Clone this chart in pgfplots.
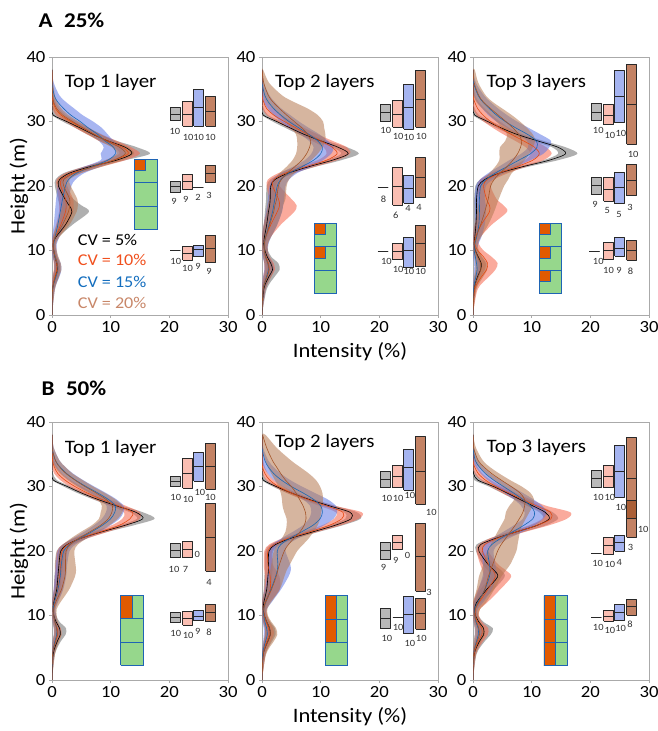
\documentclass[border=0pt]{standalone}
\usepackage{fontspec}
\setmainfont{Carlito}[FakeStretch=1.1]
\usepackage{pgfplots}
\usepackage{pgfplotstable}
\pgfplotsset{compat=1.18}

\definecolor{axgray}{RGB}{170,170,170}
\definecolor{bandk}{RGB}{110,110,110}
\definecolor{bandr}{RGB}{245,100,75}
\definecolor{bandu}{RGB}{95,120,230}
\definecolor{bandw}{RGB}{180,120,80}
\definecolor{linek}{RGB}{0,0,0}
\definecolor{liner}{RGB}{230,75,20}
\definecolor{lineu}{RGB}{25,105,180}
\definecolor{linew}{RGB}{165,85,40}
\definecolor{bxk}{RGB}{185,185,185}
\definecolor{bxr}{RGB}{250,190,178}
\definecolor{bxu}{RGB}{165,180,240}
\definecolor{bxw}{RGB}{195,130,100}
\definecolor{bxwd}{RGB}{170,95,55}
\definecolor{boxdraw}{RGB}{40,40,40}
\definecolor{labgray}{RGB}{50,50,50}
\definecolor{ggreen}{RGB}{150,215,140}
\definecolor{gblue}{RGB}{30,100,180}
\definecolor{gorange}{RGB}{225,90,0}
\definecolor{cvr}{RGB}{240,80,30}
\definecolor{cvu}{RGB}{20,110,190}
\definecolor{cvw}{RGB}{200,135,105}

\newcommand{\tickfont}{\fontsize{17}{19}\selectfont}
\newcommand{\labfont}{\fontsize{20.5}{22}\selectfont}
\newcommand{\ttlfont}{\fontsize{19}{21}\selectfont}
\newcommand{\numfont}{\fontsize{9.5}{10}\selectfont}
\newcommand{\cvfont}{\fontsize{16.5}{18}\selectfont}

\pgfplotsset{panel/.style={scale only axis, width=176pt, height=258pt,
  xmin=0, xmax=30, ymin=0, ymax=40, xtick={0,10,20,30}, ytick={0,10,20,30,40},
  axis line style={draw=axgray, line width=0.8pt}, tick style={draw=axgray, line width=0.8pt},
  tick align=outside, tick pos=left, major tick length=3pt,
  ticklabel style={font=\tickfont}, /pgf/number format/assume math mode=true,
  xlabel style={font=\labfont, at={(axis description cs:0.5,-0.143)}, anchor=center},
  ylabel style={font=\labfont, at={(axis description cs:-0.1875,0.5)}, anchor=center},
  anchor=south west}}

% builds a closed band polygon in #1 (up the lo side, down the hi side); #2 = descending copy
\newcommand{\mkband}[2]{%
 \pgfplotstablesort[sort key=h, sort cmp=float >]{#2}{#1}%
 \pgfplotstablecreatecol[copy=hi]{bx}{#2}%
 \pgfplotstablecreatecol[copy=lo]{bx}{#1}%
 \pgfplotstablevertcat{#1}{#2}%
}
\newcommand{\prof}[2]{\addplot[fill=#2, fill opacity=0.55, draw=none, smooth] table[x=bx,y=h]{#1};}
\newcommand{\mline}[2]{\addplot[draw=#2, line width=0.6pt, smooth] table[x=m,y=h]{#1};}
\newcommand{\four}[8]{%
 \prof{#1}{bandk}
 \prof{#2}{bandr}
 \prof{#3}{bandu}
 \prof{#4}{bandw}
 \mline{#5}{linek}
 \mline{#6}{liner}
 \mline{#7}{lineu}
 \mline{#8}{linew}
}
\newcommand{\bx}[5]{%
 \pgfmathsetmacro\bxl{#1-0.85}\pgfmathsetmacro\bxr{#1+0.85}%
 \addplot[fill=#5, draw=boxdraw, line width=1pt, line join=round] coordinates {(\bxl,#2) (\bxr,#2) (\bxr,#4) (\bxl,#4) (\bxl,#2)};
 \addplot[draw=boxdraw, line width=1pt] coordinates {(\bxl,#3) (\bxr,#3)};
}
\newcommand{\lb}[3]{\node[font=\numfont, text=labgray] at (axis cs:#1,#2) {#3};}
\newcommand{\rect}[5]{\addplot[fill=#5, draw=gblue, line width=0.9pt, line join=round] coordinates {(#1,#2) (#3,#2) (#3,#4) (#1,#4) (#1,#2)};}
\newcommand{\hl}[3]{\addplot[draw=gblue, line width=0.9pt] coordinates {(#1,#3) (#2,#3)};}

% ---------------- Panel A, Top 1 layer ----------------
\pgfplotstableread{
h m lo hi
0 0 0 0
4 0.1 0 0.4
6 0.6 0.2 1.2
7 0.9 0.4 1.4
8 0.8 0.4 1.3
9 0.5 0.2 0.9
10 0.3 0.1 0.6
11 0.2 0 0.5
12 0.6 0.2 1.0
14 2.3 1.2 3.5
16 3.4 1.5 6.3
17 2.9 1.3 5.0
18 2.2 1.0 3.6
20 1.1 0.5 1.8
21 1.3 0.6 2.1
22 3.0 2.0 4.0
23 6.5 5.5 7.8
24 11 10 12.5
25 13.6 12.5 16.7
26 12.5 11.5 14.5
27 9.5 8.5 11
28 7 6 8.2
29 4.8 4 5.8
30 2.5 1.8 3.5
31 0.2 0 1.0
32 0 0 0.3
33 0 0 0
34 0 0 0
36 0 0 0
38 0 0 0
}\tAak
\pgfplotstableread{
h m lo hi
0 0 0 0
4 0.1 0 0.4
6 0.5 0.1 1.0
7 0.8 0.3 1.3
8 0.8 0.3 1.3
9 0.5 0.2 0.9
10 0.3 0 0.7
11 0.2 0 0.6
12 0.5 0.1 1.0
14 1.5 0.7 2.6
16 2.3 1.2 3.6
17 2.4 1.2 3.7
18 2.3 1.2 3.6
20 1.5 0.8 2.6
21 1.6 0.8 2.6
22 3.5 2.3 4.8
23 7 5.5 8.5
24 10.5 9 12.5
25 13 11.5 15
26 12 10.5 13.5
27 9.5 8 11
28 7.2 6 8.5
29 5.2 4 6.3
30 3.2 2.3 4.2
31 1.5 0.7 2.3
32 0.6 0.1 1.2
33 0.2 0 0.6
34 0 0 0.3
36 0 0 0.1
38 0 0 0
}\tAar
\pgfplotstableread{
h m lo hi
0 0 0 0
4 0.1 0 0.5
6 0.7 0.2 1.3
7 1.0 0.4 1.6
8 0.9 0.4 1.5
9 0.5 0.1 1.0
10 0.3 0 0.8
11 0.3 0 0.8
12 0.5 0 1.2
14 1.0 0.3 2.0
16 1.4 0.5 2.5
17 1.6 0.6 2.7
18 1.8 0.7 2.9
20 2.3 1.0 3.3
21 2.8 1.5 4.0
22 4.2 2.8 5.5
23 6.8 5.5 8.2
24 9.5 8.3 10.8
25 10.8 8.3 12.5
26 10.5 8.8 12
27 9 8 10.5
28 7.8 6.5 9.5
29 6.2 5 8.5
30 4.8 3.5 7
31 3.2 2 5.2
32 2 1 3.8
33 1.0 0.3 2.4
34 0.4 0 1.3
36 0 0 0.3
38 0 0 0
}\tAau
\pgfplotstableread{
h m lo hi
0 0 0 0
4 0.1 0 0.5
6 0.6 0.2 1.2
7 1.0 0.4 1.6
8 0.9 0.4 1.5
9 0.6 0.2 1.1
10 0.3 0 0.8
11 0.2 0 0.7
12 0.5 0.1 1.2
14 1.8 0.8 3.0
16 2.8 1.5 4.2
17 3.0 1.8 4.4
18 3.0 1.8 4.3
20 2.0 1.0 3.2
21 2.0 1.0 3.0
22 3.8 2.6 5.0
23 7 5.8 8.5
24 10.5 9.2 12
25 12.5 11 14
26 11.5 10.2 13
27 9.2 8 10.5
28 7.2 6.2 8.3
29 5.3 4.3 6.3
30 3.5 2.6 4.5
31 1.8 1 2.8
32 0.8 0.2 1.6
33 0.3 0 0.9
34 0.1 0 0.5
36 0 0 0.2
38 0 0 0
}\tAaw

% ---------------- Panel A, Top 2 layers ----------------
\pgfplotstableread{
h m lo hi
0 0 0 0
4 0.3 0 0.8
6 1.2 0.5 2.2
7 1.8 0.8 3.0
8 1.5 0.7 2.8
9 0.9 0.4 1.6
10 0.5 0.1 1.0
11 0.3 0 0.7
12 0.4 0 0.9
14 0.8 0.3 1.5
16 1.1 0.5 1.9
17 1.3 0.6 2.1
18 1.4 0.7 2.2
20 1.5 0.8 2.3
21 2.2 1.4 3.0
22 4.5 3.5 5.5
23 8 7 9.2
24 12 11 13.5
25 14.7 13.5 16.5
26 13 12 14.5
27 10 9 11
28 7.2 6.3 8.2
29 4.8 4 5.7
30 2.5 1.8 3.3
31 0.2 0 1.0
32 0 0 0.3
33 0 0 0
34 0 0 0
36 0 0 0
38 0 0 0
}\tAbk
\pgfplotstableread{
h m lo hi
0 0 0 0
4 0.2 0 0.6
6 0.8 0.2 1.6
7 1.2 0.4 2.2
8 1.1 0.4 2.0
9 0.7 0.2 1.3
10 0.4 0 0.9
11 0.4 0 1.0
12 0.6 0 1.4
14 1.5 0.3 3.2
16 2.6 0.8 5.5
17 3.0 1.0 5.9
18 2.8 1.2 5.0
20 1.8 0.8 3.0
21 2.0 1.0 3.0
22 4 2.8 5.5
23 7.5 6 9
24 11 9.5 12.8
25 12.8 11 15
26 12 10.5 14.5
27 10 8.5 12
28 7.8 6.5 9.5
29 5.8 4.5 7.2
30 3.8 2.5 5.2
31 2.0 0.8 3.2
32 0.8 0.1 1.8
33 0.3 0 0.8
34 0 0 0.3
36 0 0 0
38 0 0 0
}\tAbr
\pgfplotstableread{
h m lo hi
0 0 0 0
4 0.2 0 0.6
6 0.8 0.2 1.5
7 1.1 0.4 2.0
8 1.0 0.4 1.8
9 0.6 0.1 1.2
10 0.4 0 1.0
11 0.4 0 1.1
12 0.6 0 1.5
14 1.2 0.3 2.6
16 1.8 0.7 3.4
17 2.0 0.9 3.6
18 2.2 1.0 3.8
20 2.6 1.3 4.0
21 3.2 1.8 4.6
22 4.6 3.2 6.0
23 6.8 5.3 8.4
24 8.8 7.3 10.4
25 10 8.4 11.8
26 10.3 8.8 12.2
27 9.5 8 11.2
28 8 6.5 9.8
29 6.3 4.8 8
30 4.6 3.2 6.3
31 3.2 2 4.8
32 2 1 3.3
33 1.1 0.3 2.2
34 0.5 0 1.3
36 0 0 0.3
38 0 0 0
}\tAbu
\pgfplotstableread{
h m lo hi
0 0 0 0
4 0.2 0 0.6
6 0.9 0.3 1.6
7 1.2 0.5 2.0
8 1.0 0.4 1.8
9 0.6 0.2 1.2
10 0.4 0 1.0
11 0.4 0 1.0
12 0.6 0 1.5
14 1.3 0.3 2.6
16 2.0 0.8 3.4
17 2.2 1.0 3.6
18 2.5 1.2 4.0
20 2.8 1.5 4.2
21 3.3 2.0 4.6
22 4.3 3.0 5.6
23 5.6 4.2 7.0
24 6.8 5.2 8.4
25 7.6 5.8 9.5
26 8.1 6.0 10.3
27 8.3 6.0 10.8
28 7.8 5.8 10.8
29 6.8 5.0 10.6
30 5.5 4.0 10.4
31 4.2 3.0 9.5
32 3.0 1.8 7.8
33 1.9 0.8 5.5
34 1.1 0.3 3.5
36 0.3 0 1.2
38 0 0 0.2
}\tAbw

% ---------------- Panel A, Top 3 layers ----------------
\pgfplotstableread{
h m lo hi
0 0 0 0
4 0.2 0 0.5
6 0.8 0.3 1.4
7 1.3 0.6 2.0
8 1.4 0.7 2.2
9 0.9 0.4 1.5
10 0.4 0.1 0.8
11 0.2 0 0.5
12 0.3 0 0.7
14 0.5 0.2 1.0
16 0.6 0.2 1.1
17 0.6 0.2 1.1
18 0.6 0.2 1.1
20 0.9 0.4 1.5
21 2.0 1.2 2.8
22 4.5 3.5 5.5
23 8.5 7.5 9.5
24 13 12 14.5
25 15.8 14.5 17.8
26 14.5 13.5 15.8
27 11 10 12
28 7.5 6.5 8.5
29 4.8 4 5.6
30 2.5 1.8 3.2
31 0.3 0 1.0
32 0 0 0.3
33 0 0 0
34 0 0 0
36 0 0 0
38 0 0 0
}\tAck
\pgfplotstableread{
h m lo hi
0 0 0 0
4 0.3 0 0.8
6 1.5 0.5 2.8
7 2.3 1.0 3.8
8 2.5 1.0 4.2
9 1.8 0.6 3.2
10 0.8 0.1 1.8
11 0.3 0 1.0
12 0.4 0 1.2
14 1.4 0.3 3.2
16 2.8 1.0 5.8
17 2.8 1.2 5.2
18 2.3 1.0 4.0
20 1.8 0.8 3.0
21 2.4 1.2 3.6
22 4.5 3.0 6.0
23 7.5 6 9.0
24 10.2 8.8 12
25 11.3 9.8 13.4
26 10.5 9 12.5
27 8.6 7.2 10.5
28 6.5 5.2 8.2
29 4.6 3.4 6.2
30 3.0 1.8 4.6
31 1.7 0.6 3.2
32 0.8 0 2.0
33 0.3 0 1.0
34 0 0 0.4
36 0 0 0
38 0 0 0
}\tAcr
\pgfplotstableread{
h m lo hi
0 0 0 0
4 0.1 0 0.4
6 0.5 0.1 1.0
7 0.7 0.2 1.3
8 0.6 0.2 1.2
9 0.4 0 0.9
10 0.2 0 0.7
11 0.3 0 0.9
12 0.6 0 1.4
14 1.0 0.3 2.0
16 1.1 0.3 2.2
17 1.1 0.3 2.2
18 1.1 0.3 2.0
20 1.3 0.5 2.2
21 2.2 1.2 3.4
22 3.8 2.6 5.2
23 5.8 4.4 7.4
24 7.8 6.2 9.8
25 9.8 8.2 12
26 10.9 9.4 13
27 10.8 9.2 13.3
28 9.3 7.8 11.5
29 7.3 5.8 9.5
30 5.5 4.0 7.5
31 4.0 2.6 5.8
32 2.8 1.6 4.3
33 1.7 0.7 3.0
34 0.9 0.2 1.9
36 0.1 0 0.5
38 0 0 0
}\tAcu
\pgfplotstableread{
h m lo hi
0 0 0 0
4 0.2 0 0.6
6 0.9 0.2 1.8
7 1.3 0.4 2.4
8 1.3 0.4 2.4
9 0.8 0.2 1.6
10 0.4 0 1.0
11 0.3 0 0.8
12 0.5 0 1.3
14 1.3 0.3 2.6
16 2.0 0.7 3.6
17 2.3 0.9 4.0
18 2.6 1.1 4.4
20 3.0 1.3 5.3
21 3.6 1.8 6.0
22 4.6 2.8 6.6
23 5.8 3.8 7.8
24 6.8 4.5 8.8
25 7.6 4.5 9.6
26 8.1 4.6 10.2
27 8.3 5.5 10.6
28 7.8 5.8 10.2
29 6.8 5.0 9.2
30 5.6 4.0 8.0
31 4.3 2.8 6.6
32 3.0 1.6 5.0
33 1.8 0.6 3.4
34 1.0 0.1 2.2
36 0.2 0 0.9
38 0 0 0.3
}\tAcw

% ---------------- Panel B, Top 1 layer ----------------
\pgfplotstableread{
h m lo hi
0 0 0 0
4 0.2 0 0.5
6 0.9 0.4 1.5
7 1.4 0.7 2.3
8 1.3 0.6 2.4
9 0.7 0.3 1.3
10 0.3 0.1 0.7
11 0.2 0 0.5
12 0.3 0 0.7
14 0.8 0.3 1.4
16 1.0 0.4 1.6
17 1.1 0.5 1.8
18 1.2 0.5 1.9
20 1.5 0.8 2.3
21 2.6 1.8 3.4
22 5.0 4.0 6.0
23 8.6 7.6 9.6
24 12.5 11.5 14
25 15.5 14.5 17.5
26 14.3 13.3 15.5
27 11 10 12
28 7.8 7 8.6
29 5 4.3 5.8
30 2.6 2 3.2
31 0.2 0 0.8
32 0 0 0.2
33 0 0 0
34 0 0 0
36 0 0 0
38 0 0 0
}\tBak
\pgfplotstableread{
h m lo hi
0 0 0 0
4 0.1 0 0.4
6 0.6 0.2 1.1
7 1.0 0.4 1.6
8 0.9 0.4 1.5
9 0.5 0.2 0.9
10 0.3 0 0.6
11 0.2 0 0.5
12 0.4 0 0.9
14 1.0 0.3 1.8
16 1.3 0.5 2.2
17 1.4 0.6 2.3
18 1.5 0.6 2.4
20 1.7 0.9 2.6
21 2.7 1.8 3.6
22 5.0 3.8 6.2
23 8.3 7 9.6
24 11.5 10.2 13
25 13.3 12 15
26 13.7 12.3 15
27 11.3 10 12.6
28 8.5 7.3 9.8
29 6.0 5 7.2
30 3.9 3.0 5.0
31 2.2 1.4 3.1
32 1.0 0.4 1.7
33 0.4 0 0.9
34 0.1 0 0.4
36 0 0 0
38 0 0 0
}\tBar
\pgfplotstableread{
h m lo hi
0 0 0 0
4 0.1 0 0.4
6 0.5 0.1 1.0
7 0.8 0.3 1.4
8 0.8 0.3 1.3
9 0.5 0.1 0.9
10 0.3 0 0.7
11 0.2 0 0.6
12 0.4 0 1.0
14 1.0 0.3 1.9
16 1.4 0.5 2.4
17 1.5 0.6 2.5
18 1.6 0.7 2.6
20 2.0 1.0 3.0
21 3.0 1.9 4.0
22 4.8 3.6 6.0
23 6.8 5.5 8.2
24 8.6 7.2 10
25 10 8.5 11.5
26 10.7 9.2 12.2
27 10.8 9.3 12.2
28 9.6 8.2 11
29 7.8 6.5 9.2
30 5.8 4.6 7.2
31 4.0 2.9 5.3
32 2.5 1.6 3.6
33 1.4 0.7 2.3
34 0.6 0.1 1.3
36 0 0 0.3
38 0 0 0
}\tBau
\pgfplotstableread{
h m lo hi
0 0 0 0
4 0.1 0 0.5
6 0.6 0.1 1.2
7 0.9 0.3 1.6
8 0.8 0.3 1.4
9 0.5 0.1 1.0
10 0.3 0 0.8
11 0.3 0 0.8
12 0.6 0 1.4
14 1.6 0.5 2.9
16 2.2 0.9 3.9
17 2.3 1.0 4.1
18 2.3 1.0 4.0
20 2.4 1.2 3.8
21 3.1 1.9 4.4
22 4.6 3.3 6.0
23 6.5 5.0 8.0
24 8.3 6.8 9.8
25 9.6 8.0 11.2
26 10.2 8.3 12
27 10.3 8.5 12
28 9.2 7.8 10.8
29 7.5 6.2 9.0
30 5.6 4.3 7.0
31 3.9 2.7 5.2
32 2.4 1.4 3.5
33 1.3 0.5 2.3
34 0.6 0 1.3
36 0 0 0.3
38 0 0 0
}\tBaw

% ---------------- Panel B, Top 2 layers ----------------
\pgfplotstableread{
h m lo hi
0 0 0 0
4 0.2 0 0.6
6 1.0 0.4 1.7
7 1.4 0.6 2.3
8 1.3 0.6 2.2
9 0.8 0.3 1.4
10 0.4 0.1 0.8
11 0.2 0 0.6
12 0.3 0 0.8
14 0.8 0.3 1.5
16 1.0 0.4 1.7
17 1.1 0.5 1.8
18 1.1 0.5 1.8
20 1.2 0.6 1.9
21 2.3 1.5 3.1
22 5.0 4 6.0
23 8.8 7.8 9.8
24 12.5 11.5 13.8
25 15.2 14.2 16.8
26 15.0 14 16.2
27 11.5 10.5 12.5
28 8 7.2 8.8
29 5 4.3 5.7
30 2.4 1.8 3.0
31 0.2 0 0.8
32 0 0 0.2
33 0 0 0
34 0 0 0
36 0 0 0
38 0 0 0
}\tBbk
\pgfplotstableread{
h m lo hi
0 0 0 0
4 0.2 0 0.6
6 0.8 0.3 1.5
7 1.2 0.5 2.0
8 1.1 0.5 1.9
9 0.7 0.2 1.3
10 0.4 0 0.9
11 0.3 0 0.8
12 0.5 0 1.3
14 1.4 0.4 3.0
16 1.4 0.5 3.0
17 1.2 0.4 2.4
18 1.0 0.3 1.8
20 1.0 0.4 1.7
21 2.0 1.2 2.8
22 4.6 3.6 5.8
23 8.2 7 9.6
24 11.5 10.3 13.5
25 13.6 12.3 16.5
26 13.8 12.6 17.0
27 11.0 9.8 12.4
28 7.8 6.8 8.8
29 5.0 4.2 5.9
30 2.8 2.1 3.6
31 1.3 0.7 2.0
32 0.5 0.1 1.0
33 0.1 0 0.5
34 0 0 0.2
36 0 0 0
38 0 0 0
}\tBbr
\pgfplotstableread{
h m lo hi
0 0 0 0
4 0.1 0 0.5
6 0.6 0.2 1.1
7 0.9 0.3 1.5
8 0.8 0.3 1.4
9 0.5 0.1 1.0
10 0.3 0 0.7
11 0.3 0 0.8
12 0.6 0 1.6
14 1.5 0.5 3.2
16 2.3 0.9 4.5
17 2.6 1.1 4.9
18 2.7 1.2 4.8
20 2.6 1.2 4.0
21 3.2 1.8 4.4
22 4.8 3.4 6.2
23 6.8 5.3 8.4
24 8.7 7.0 10.6
25 9.9 8.0 12.2
26 10.3 8.4 12.8
27 10.0 8.2 12.6
28 8.8 7.0 11.2
29 7.0 5.3 9.0
30 5.0 3.5 6.8
31 3.3 2.0 4.8
32 2.0 1.0 3.2
33 1.1 0.3 2.0
34 0.5 0 1.1
36 0 0 0.2
38 0 0 0
}\tBbu
\pgfplotstableread{
h m lo hi
0 0 0 0
4 0.2 0 0.7
6 1.0 0.3 2.0
7 1.4 0.5 2.6
8 1.3 0.5 2.4
9 0.8 0.2 1.6
10 0.4 0 1.0
11 0.3 0 0.9
12 0.6 0 1.5
14 1.6 0.6 3.0
16 2.4 1.2 3.8
17 2.7 1.4 4.2
18 3.0 1.6 4.8
20 3.8 2.0 6.0
21 4.5 2.6 7.0
22 5.5 3.4 8.0
23 6.5 4.0 8.8
24 7.2 4.2 9.5
25 7.5 4.2 9.9
26 7.4 3.8 10.1
27 7.0 3.5 10.3
28 6.4 3.4 10.4
29 5.8 3.2 10.3
30 5.0 2.8 9.9
31 4.0 2.2 9.2
32 3.2 1.6 8.0
33 2.5 1.0 6.5
34 1.8 0.6 5.0
36 0.8 0 2.5
38 0.1 0 0.6
}\tBbw

% ---------------- Panel B, Top 3 layers ----------------
\pgfplotstableread{
h m lo hi
0 0 0 0
4 0.2 0 0.6
6 1.1 0.5 2.0
7 1.8 0.9 3.0
8 1.8 0.8 3.4
9 1.0 0.4 1.8
10 0.4 0.1 0.9
11 0.3 0 0.7
12 0.6 0.1 1.3
14 2.3 1.2 3.5
16 4.2 3.0 5.4
17 3.6 2.5 4.8
18 2.5 1.6 3.5
20 1.0 0.5 1.7
21 1.3 0.6 2.2
22 4.0 3.0 5.0
23 7.5 6.5 8.8
24 11 10 12.5
25 13 12 14.5
26 12.3 11.3 13.6
27 10.2 9.2 11.4
28 8.0 7 9.2
29 5.8 4.9 6.8
30 3.5 2.7 4.5
31 0.8 0.2 1.6
32 0.1 0 0.5
33 0 0 0
34 0 0 0
36 0 0 0
38 0 0 0
}\tBck
\pgfplotstableread{
h m lo hi
0 0 0 0
4 0.2 0 0.5
6 0.9 0.3 1.7
7 1.5 0.6 2.5
8 1.5 0.6 2.6
9 0.8 0.2 1.5
10 0.4 0 1.0
11 0.4 0 1.2
12 1.0 0 2.4
14 2.5 0.8 4.6
16 3.8 1.8 6.5
17 3.4 1.6 5.6
18 2.6 1.2 4.2
20 1.6 0.6 2.6
21 2.0 1.0 3.0
22 4.2 3.0 5.5
23 7.5 6.2 9.0
24 11 9.6 13
25 13.3 11.8 16
26 13.2 11.8 16.6
27 10.8 9.5 12.5
28 8.4 7.2 9.8
29 6.1 5 7.3
30 3.9 3.0 5.0
31 2.1 1.3 3.0
32 0.9 0.3 1.6
33 0.3 0 0.8
34 0 0 0.3
36 0 0 0
38 0 0 0
}\tBcr
\pgfplotstableread{
h m lo hi
0 0 0 0
4 0.1 0 0.4
6 0.6 0.2 1.1
7 0.9 0.3 1.6
8 0.9 0.3 1.5
9 0.5 0.1 1.0
10 0.3 0 0.7
11 0.3 0 0.8
12 0.8 0.1 1.7
14 2.0 0.9 3.2
16 2.8 1.6 4.0
17 2.9 1.8 4.0
18 2.8 1.7 3.8
20 2.5 1.5 3.5
21 3.2 2.0 4.3
22 4.8 3.4 6.2
23 6.8 5.2 8.5
24 8.7 7.0 10.5
25 10.2 8.5 12.0
26 10.5 8.8 12.5
27 9.8 8.2 11.8
28 8.5 7.0 10.3
29 6.9 5.5 8.5
30 5.2 4.0 6.6
31 3.5 2.5 4.7
32 2.1 1.3 3.0
33 1.1 0.5 1.8
34 0.4 0 0.9
36 0 0 0.2
38 0 0 0
}\tBcu
\pgfplotstableread{
h m lo hi
0 0 0 0
4 0.1 0 0.5
6 0.7 0.1 1.4
7 1.1 0.3 2.0
8 1.0 0.3 1.9
9 0.6 0.1 1.2
10 0.3 0 0.9
11 0.4 0 1.2
12 0.9 0 2.2
14 2.0 0.6 3.6
16 2.6 1.0 4.8
17 3.0 1.4 5.6
18 3.4 1.8 6.4
20 4.2 2.4 7.4
21 4.8 3.0 7.6
22 5.6 3.6 7.8
23 6.4 4.2 8.0
24 7.2 4.8 8.4
25 7.9 5.4 9.0
26 8.5 5.6 9.6
27 8.8 6.2 10.2
28 8.8 7.0 10.4
29 8.0 6.5 9.8
30 6.5 5.0 8.3
31 4.8 3.5 6.3
32 3.2 2.2 4.5
33 1.9 1.0 2.9
34 0.9 0.3 1.7
36 0.1 0 0.5
38 0 0 0
}\tBcw

\mkband{\tAak}{\dAak}\mkband{\tAar}{\dAar}\mkband{\tAau}{\dAau}\mkband{\tAaw}{\dAaw}
\mkband{\tAbk}{\dAbk}\mkband{\tAbr}{\dAbr}\mkband{\tAbu}{\dAbu}\mkband{\tAbw}{\dAbw}
\mkband{\tAck}{\dAck}\mkband{\tAcr}{\dAcr}\mkband{\tAcu}{\dAcu}\mkband{\tAcw}{\dAcw}
\mkband{\tBak}{\dBak}\mkband{\tBar}{\dBar}\mkband{\tBau}{\dBau}\mkband{\tBaw}{\dBaw}
\mkband{\tBbk}{\dBbk}\mkband{\tBbr}{\dBbr}\mkband{\tBbu}{\dBbu}\mkband{\tBbw}{\dBbw}
\mkband{\tBck}{\dBck}\mkband{\tBcr}{\dBcr}\mkband{\tBcu}{\dBcu}\mkband{\tBcw}{\dBcw}

\begin{document}
\begin{tikzpicture}
\path[use as bounding box] (0pt,0pt) rectangle (658pt,731pt);

\node[anchor=west, font=\bfseries\fontsize{21}{23}\selectfont] at (35pt,711pt) {A\hspace{0.55em}25\%};
\node[anchor=west, font=\bfseries\fontsize{21}{23}\selectfont] at (38pt,343pt) {B\hspace{0.55em}50\%};

% ===== A1 =====
\begin{axis}[panel, at={(52pt,416pt)}, ylabel={Height (m)}]
\four{\tAak}{\tAar}{\tAau}{\tAaw}{\dAak}{\dAar}{\dAau}{\dAaw}
\rect{14.0}{13.26}{17.9}{24.15}{ggreen}
\rect{14.0}{22.35}{16.0}{24.15}{gorange}
\hl{14.0}{17.9}{20.5}
\hl{14.0}{17.9}{16.8}
\rect{14.0}{13.26}{17.9}{24.15}{none}
\bx{21}{30.1}{31.1}{32.15}{bxk}
\bx{23.1}{29.3}{31.1}{33.1}{bxr}
\bx{25.05}{29.3}{32.15}{34.9}{bxu}
\bx{27.05}{29.3}{31.6}{33.95}{bxw}
\bx{21}{19.05}{19.9}{20.65}{bxk}
\bx{23.1}{19.45}{20.65}{21.85}{bxr}
\bx{24.9}{19.75}{19.75}{19.75}{bxu}
\bx{27.05}{20.5}{21.95}{23.2}{bxw}
\bx{21}{9.95}{9.95}{9.95}{bxk}
\bx{23.1}{8.5}{9.55}{10.6}{bxr}
\bx{25.05}{9.05}{10.2}{10.75}{bxu}
\bx{27.05}{8.1}{10.3}{12.4}{bxw}
\lb{20.95}{28.4}{10}\lb{23.2}{27.6}{10}\lb{25.0}{27.6}{10}\lb{27.0}{27.6}{10}
\lb{20.8}{17.55}{9}\lb{22.8}{17.9}{9}\lb{24.9}{18.2}{2}\lb{26.75}{18.6}{3}
\lb{21.1}{8.25}{10}\lb{23.1}{7.2}{10}\lb{24.9}{7.5}{9}\lb{26.75}{6.7}{9}
\node[font=\ttlfont] at (axis cs:10,36.1) {Top 1 layer};
\node[font=\cvfont, anchor=west, text=black] at (axis cs:3.8,11.7) {CV = 5\%};
\node[font=\cvfont, anchor=west, text=cvr] at (axis cs:3.8,8.5) {CV = 10\%};
\node[font=\cvfont, anchor=west, text=cvu] at (axis cs:3.8,5.2) {CV = 15\%};
\node[font=\cvfont, anchor=west, text=cvw] at (axis cs:3.8,1.9) {CV = 20\%};
\end{axis}

% ===== A2 =====
\begin{axis}[panel, at={(262pt,416pt)}, xlabel={Intensity (\%)}]
\four{\tAbk}{\tAbr}{\tAbu}{\tAbw}{\dAbk}{\dAbr}{\dAbu}{\dAbw}
\rect{8.9}{3.35}{12.7}{14.2}{ggreen}
\rect{8.9}{12.45}{10.9}{14.2}{gorange}
\rect{8.9}{8.75}{10.9}{10.55}{gorange}
\hl{8.9}{12.7}{10.55}
\hl{8.9}{12.7}{6.95}
\rect{8.9}{3.35}{12.7}{14.2}{none}
\bx{21}{30.0}{31.35}{32.6}{bxk}
\bx{23.1}{29.1}{31.15}{33.2}{bxr}
\bx{25.05}{28.8}{32.2}{35.8}{bxu}
\bx{27.05}{29.1}{33.45}{37.85}{bxw}
\bx{20.6}{19.8}{19.8}{19.8}{bxk}
\bx{23.1}{17.0}{19.9}{22.8}{bxr}
\bx{25.05}{17.35}{19.65}{21.65}{bxu}
\bx{27.05}{18.2}{21.25}{24.35}{bxw}
\bx{20.6}{9.9}{9.9}{9.9}{bxk}
\bx{23.1}{8.6}{9.9}{11.05}{bxr}
\bx{25.05}{7.35}{10.05}{11.95}{bxu}
\bx{27.05}{7.45}{11.05}{13.9}{bxw}
\lb{21.1}{28.6}{10}\lb{23.2}{27.65}{10}\lb{25.05}{27.45}{10}\lb{27.15}{27.65}{10}
\lb{20.7}{18.0}{8}\lb{22.8}{15.45}{6}\lb{24.9}{16.5}{4}\lb{26.75}{16.6}{4}
\lb{21.2}{8.25}{10}\lb{23.2}{7.05}{10}\lb{25.05}{6.7}{10}\lb{27.05}{6.7}{10}
\node[font=\ttlfont] at (axis cs:10.7,36.0) {Top 2 layers};
\end{axis}

% ===== A3 =====
\begin{axis}[panel, at={(473pt,416pt)}]
\four{\tAck}{\tAcr}{\tAcu}{\tAcw}{\dAck}{\dAcr}{\dAcu}{\dAcw}
\rect{11.3}{3.35}{15.1}{14.25}{ggreen}
\rect{11.3}{12.45}{13.2}{14.25}{gorange}
\rect{11.3}{8.75}{13.2}{10.55}{gorange}
\rect{11.3}{5.15}{13.2}{6.95}{gorange}
\hl{11.3}{15.1}{10.55}
\hl{11.3}{15.1}{6.95}
\rect{11.3}{3.35}{15.1}{14.25}{none}
\bx{21}{30.1}{31.45}{32.8}{bxk}
\bx{23.1}{29.5}{31.0}{32.6}{bxr}
\bx{25.05}{29.8}{33.9}{37.9}{bxu}
\bx{27.05}{26.5}{32.7}{38.9}{bxw}
\bx{21}{18.7}{20.1}{21.35}{bxk}
\bx{23.1}{17.65}{19.5}{21.35}{bxr}
\bx{25.05}{17.25}{19.7}{22.15}{bxu}
\bx{27.05}{18.45}{20.9}{23.4}{bxw}
\bx{20.7}{9.9}{9.9}{9.9}{bxk}
\bx{23.1}{8.6}{9.95}{11.25}{bxr}
\bx{25.05}{9.1}{10.25}{11.95}{bxu}
\bx{27.05}{8.5}{9.95}{11.55}{bxw}
\lb{21.35}{28.6}{10}\lb{23.35}{27.9}{10}\lb{25.2}{28.2}{10}\lb{27.3}{24.9}{10}
\lb{20.8}{17.1}{9}\lb{22.9}{16.2}{5}\lb{24.9}{15.55}{5}\lb{26.75}{16.75}{3}
\lb{21.35}{8.25}{10}\lb{23.1}{6.95}{10}\lb{24.9}{6.95}{9}\lb{26.85}{6.85}{8}
\node[font=\ttlfont] at (axis cs:10.8,36.0) {Top 3 layers};
\end{axis}

% ===== B1 =====
\begin{axis}[panel, at={(52pt,51pt)}, ylabel={Height (m)}]
\four{\tBak}{\tBar}{\tBau}{\tBaw}{\dBak}{\dBar}{\dBau}{\dBaw}
\rect{11.7}{2.3}{15.6}{13.1}{ggreen}
\rect{11.7}{9.5}{13.7}{13.1}{gorange}
\hl{11.7}{15.6}{9.5}
\hl{11.7}{15.6}{5.8}
\rect{11.7}{2.3}{15.6}{13.1}{none}
\bx{21}{29.95}{30.8}{31.5}{bxk}
\bx{23.1}{29.75}{32.0}{34.35}{bxr}
\bx{25.05}{30.8}{33.05}{35.25}{bxu}
\bx{27.05}{29.6}{33.05}{36.7}{bxw}
\bx{21}{18.95}{20.1}{21.2}{bxk}
\bx{23.1}{18.95}{20.25}{21.5}{bxr}
\bx{27.05}{16.85}{22.15}{27.4}{bxw}
\bx{21}{8.9}{9.7}{10.4}{bxk}
\bx{23.1}{8.5}{9.5}{10.55}{bxr}
\bx{25.05}{9.15}{9.9}{10.7}{bxu}
\bx{27.05}{9.0}{10.45}{11.7}{bxw}
\lb{21.1}{28.3}{10}\lb{23.2}{28.05}{10}\lb{25.2}{29.1}{10}\lb{27.0}{28.3}{10}
\lb{20.8}{17.1}{10}\lb{22.75}{17.1}{7}\lb{24.75}{19.45}{0}\lb{26.75}{15.2}{4}
\lb{21.1}{7.2}{10}\lb{23.2}{6.9}{10}\lb{24.85}{7.6}{9}\lb{26.75}{7.45}{8}
\node[font=\ttlfont] at (axis cs:10,35.9) {Top 1 layer};
\end{axis}

% ===== B2 =====
\begin{axis}[panel, at={(262pt,51pt)}, xlabel={Intensity (\%)}]
\four{\tBbk}{\tBbr}{\tBbu}{\tBbw}{\dBbk}{\dBbr}{\dBbu}{\dBbw}
\rect{10.8}{2.2}{14.65}{13.1}{ggreen}
\rect{10.8}{9.46}{12.7}{13.1}{gorange}
\rect{10.8}{5.8}{12.7}{9.46}{gorange}
\hl{10.8}{14.65}{9.46}
\hl{10.8}{14.65}{5.8}
\rect{10.8}{2.2}{14.65}{13.1}{none}
\bx{21}{29.8}{31.1}{32.4}{bxk}
\bx{23.1}{29.8}{31.6}{33.3}{bxr}
\bx{25.05}{29.45}{32.9}{35.75}{bxu}
\bx{27.05}{27.25}{32.4}{37.7}{bxw}
\bx{21}{18.75}{20.05}{21.25}{bxk}
\bx{23.1}{20.2}{21.25}{22.35}{bxr}
\bx{27.05}{13.75}{19.1}{24.25}{bxw}
\bx{21}{7.95}{9.5}{11.15}{bxk}
\bx{23.1}{9.75}{9.75}{9.75}{bxr}
\bx{25.05}{7.2}{10.15}{13.0}{bxu}
\bx{27.05}{7.85}{10.3}{12.6}{bxw}
\lb{21.3}{28.2}{10}\lb{23.2}{28.2}{10}\lb{25.2}{28.55}{10}\lb{28.85}{26.05}{10}
\lb{20.7}{17.4}{9}\lb{22.8}{18.5}{9}\lb{24.8}{19.3}{0}\lb{28.45}{13.6}{3}
\lb{21.3}{6.45}{10}\lb{23.2}{8.2}{10}\lb{25.2}{5.65}{10}\lb{27.15}{6.45}{10}
\node[font=\ttlfont] at (axis cs:10.7,36.9) {Top 2 layers};
\end{axis}

% ===== B3 =====
\begin{axis}[panel, at={(473pt,51pt)}]
\four{\tBck}{\tBcr}{\tBcu}{\tBcw}{\dBck}{\dBcr}{\dBcu}{\dBcw}
\rect{12.1}{2.2}{16.05}{13.1}{ggreen}
\rect{12.1}{9.46}{14.06}{13.1}{gorange}
\rect{12.1}{5.8}{14.06}{9.46}{gorange}
\rect{12.1}{2.2}{14.06}{5.8}{gorange}
\hl{12.1}{16.05}{9.46}
\hl{12.1}{16.05}{5.8}
\rect{12.1}{2.2}{16.05}{13.1}{none}
\bx{21}{29.8}{31.2}{32.5}{bxk}
\bx{23.1}{29.8}{31.6}{33.25}{bxr}
\bx{25.05}{28.3}{32.4}{36.35}{bxu}
\bx{27.05}{22.1}{31.2}{37.55}{bxw}
\bx{27.05}{25.05}{25.05}{27.9}{bxwd}
\bx{21}{19.65}{19.65}{19.65}{bxk}
\bx{23.1}{19.45}{20.8}{22.1}{bxr}
\bx{25.05}{19.95}{21.25}{22.45}{bxu}
\bx{21}{9.75}{9.75}{9.75}{bxk}
\bx{23.1}{9.1}{9.85}{10.8}{bxr}
\bx{25.05}{9.15}{10.45}{11.7}{bxu}
\bx{27.05}{10.0}{11.4}{12.5}{bxw}
\lb{21.35}{28.3}{10}\lb{23.35}{28.3}{10}\lb{25.2}{26.75}{10}\lb{29.0}{23.4}{10}
\lb{21.25}{18.1}{10}\lb{23.35}{17.9}{10}\lb{24.95}{18.25}{4}\lb{26.85}{20.55}{3}
\lb{21.35}{8.1}{10}\lb{23.35}{7.7}{10}\lb{25.15}{7.95}{10}\lb{26.75}{8.65}{8}
\node[font=\ttlfont] at (axis cs:10.8,36.0) {Top 3 layers};
\end{axis}
\end{tikzpicture}
\end{document}
